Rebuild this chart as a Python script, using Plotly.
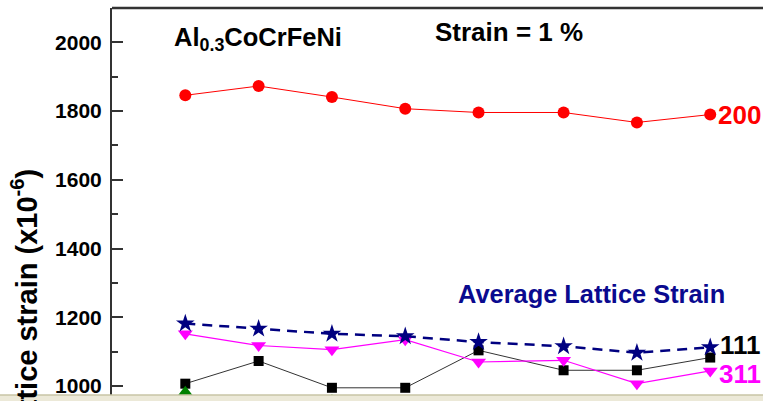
import plotly.graph_objects as go

# Measurement positions along the specimen (arbitrary units)
positions = [1, 2, 3, 4, 5, 6.16, 7.16, 8.16]

# Lattice strain (x10^-6) for each reflection
strain_111 = [1007, 1073, 995, 995, 1104, 1046, 1046, 1083]
strain_200 = [1846, 1873, 1841, 1807, 1796, 1796, 1767, 1790]
strain_220_pos = [1, 3]
strain_220 = [982, 958]
strain_311 = [1152, 1118, 1106, 1135, 1070, 1075, 1007, 1044]
strain_avg = [1182, 1167, 1152, 1145, 1128, 1116, 1097, 1113]

y_ticks = [1000, 1200, 1400, 1600, 1800, 2000]

FONT = "Liberation Sans, Arial, sans-serif"

fig = go.Figure()

fig.add_trace(go.Scatter(
    x=positions, y=strain_111, mode="lines+markers",
    line=dict(color="#333333", width=1),
    marker=dict(symbol="square", size=10, color="#000000"),
    name="111"))
fig.add_trace(go.Scatter(
    x=positions, y=strain_200, mode="lines+markers",
    line=dict(color="#ff0000", width=1),
    marker=dict(symbol="circle", size=12, color="#ff0000"),
    name="200"))
fig.add_trace(go.Scatter(
    x=strain_220_pos, y=strain_220, mode="markers",
    marker=dict(symbol="triangle-up", size=13, color="#008000"),
    name="220"))
fig.add_trace(go.Scatter(
    x=positions, y=strain_311, mode="lines+markers",
    line=dict(color="#ff00ff", width=1.2),
    marker=dict(symbol="triangle-down", size=13, color="#ff00ff"),
    name="311"))
fig.add_trace(go.Scatter(
    x=positions, y=strain_avg, mode="lines+markers",
    line=dict(color="#000080", width=2.5, dash="10px,7px"),
    marker=dict(symbol="star", size=14, color="#000080"),
    name="Average"))

annotations = [
    dict(x=0.092, y=0.92, xref="paper", yref="paper",
         text="Al<sub>0.3</sub>CoCrFeNi", showarrow=False,
         xanchor="left", yanchor="middle",
         font=dict(family=FONT, size=25.5, color="#000000", weight="bold")),
    dict(x=0.493, y=0.94, xref="paper", yref="paper",
         text="Strain = 1 %", showarrow=False,
         xanchor="left", yanchor="middle",
         font=dict(family=FONT, size=26, color="#000000", weight="bold")),
    dict(x=0.737, y=0.272, xref="paper", yref="paper",
         text="Average Lattice Strain", showarrow=False,
         xanchor="center", yanchor="middle",
         font=dict(family=FONT, size=25.4, color="#0a0a8f", weight="bold")),
    dict(x=1.0, y=strain_200[-1], xref="paper", yref="y",
         text="200", showarrow=False, xanchor="right", yanchor="middle",
         font=dict(family=FONT, size=26, color="#ff0000", weight="bold")),
    dict(x=1.0, y=strain_111[-1] + 36, xref="paper", yref="y",
         text="111", showarrow=False, xanchor="right", yanchor="middle",
         font=dict(family=FONT, size=26, color="#000000", weight="bold")),
    dict(x=1.0, y=strain_311[-1] - 8, xref="paper", yref="y",
         text="311", showarrow=False, xanchor="right", yanchor="middle",
         font=dict(family=FONT, size=26, color="#ff00ff", weight="bold")),
    dict(x=-0.134, y=0.241, xref="paper", yref="paper",
         text="Lattice strain (x10<sup>-6</sup>)", showarrow=False,
         textangle=-90, xanchor="center", yanchor="middle",
         font=dict(family=FONT, size=29, color="#000000", weight="bold")),
]

shapes = [
    # top frame line
    dict(type="line", xref="paper", yref="paper", x0=0, x1=1, y0=1, y1=1,
         line=dict(color="#333333", width=2.5), layer="above"),
    # window frame strip along the bottom edge
    dict(type="rect", xref="paper", yref="paper", x0=-0.2, x1=1.05,
         y0=-0.01, y1=6 / 393, fillcolor="#ece9d8",
         line=dict(width=0), layer="above"),
    dict(type="line", xref="paper", yref="paper", x0=-0.2, x1=1.05,
         y0=6 / 393, y1=6 / 393, line=dict(color="#c9c4a6", width=1.5),
         layer="above"),
]

fig.update_layout(
    template="none",
    width=763, height=401, autosize=False,
    margin=dict(l=112, r=0, t=8, b=0, pad=0),
    paper_bgcolor="white", plot_bgcolor="white",
    showlegend=False,
    annotations=annotations,
    shapes=shapes,
    xaxis=dict(range=[0, 8.88], visible=False, showgrid=False, zeroline=False),
    yaxis=dict(
        range=[956.6, 2100], showgrid=False, zeroline=False,
        showline=True, linecolor="#333333", linewidth=2,
        tickmode="array", tickvals=y_ticks,
        ticktext=[str(v) for v in y_ticks],
        ticks="inside", ticklen=11, tickwidth=2, tickcolor="#333333",
        minor=dict(ticks="inside", ticklen=6, tickwidth=2,
                   tickcolor="#333333", dtick=100, tick0=0),
        tickfont=dict(family=FONT, size=21, color="#000000", weight="bold"),
        ticklabelstandoff=4,
        automargin=False,
    ),
)

fig.write_html("out.html")
